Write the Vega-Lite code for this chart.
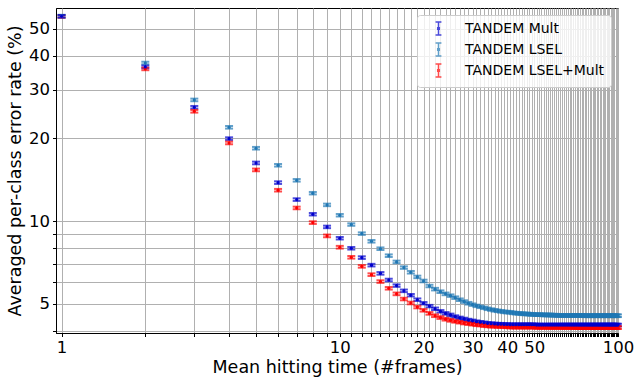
{
"$schema":"https://vega.github.io/schema/vega-lite/v6.json",
"width":562,"height":325,
"autosize":{"type":"none"},
"padding":{"left":56,"top":8,"right":17,"bottom":48},
"config":{"font":"DejaVu Sans","view":{"stroke":"black","strokeWidth":1},
"axis":{"gridColor":"#b0b0b0","gridWidth":1,"domainColor":"black","tickColor":"black","labelColor":"black","titleColor":"black","titleFontWeight":"normal","labelFontSize":16.5,"titleFontSize":17.5,"tickSize":3.5,"labelPadding":3},
"legend":{"orient":"none","legendX":361,"legendY":7,"fillColor":"rgba(255,255,255,0.8)","strokeColor":"#cccccc","cornerRadius":3,"padding":6,"labelFontSize":14,"labelColor":"black","symbolType":"M0,-1V1M-0.45,-1H0.45M-0.45,1H0.45M-0.12,-0.12H0.12V0.12H-0.12Z","symbolSize":170,"symbolStrokeWidth":1.5,"rowPadding":0,"labelOffset":19,"symbolOffset":8}},
"datasets":{"d":[
{"x":1,"s":"TANDEM LSEL+Mult","v":55.5,"e":0.6},{"x":2,"s":"TANDEM LSEL+Mult","v":35.8,"e":0.4},{"x":3,"s":"TANDEM LSEL+Mult","v":25.1,"e":0.28},{"x":4,"s":"TANDEM LSEL+Mult","v":19.25,"e":0.21},{"x":5,"s":"TANDEM LSEL+Mult","v":15.36,"e":0.17},{"x":6,"s":"TANDEM LSEL+Mult","v":12.96,"e":0.14},{"x":7,"s":"TANDEM LSEL+Mult","v":11.17,"e":0.12},{"x":8,"s":"TANDEM LSEL+Mult","v":9.88,"e":0.11},{"x":9,"s":"TANDEM LSEL+Mult","v":8.84,"e":0.1},{"x":10,"s":"TANDEM LSEL+Mult","v":8.04,"e":0.09},
{"x":11,"s":"TANDEM LSEL+Mult","v":7.39,"e":0.08},{"x":12,"s":"TANDEM LSEL+Mult","v":6.85,"e":0.075},{"x":13,"s":"TANDEM LSEL+Mult","v":6.39,"e":0.07},{"x":14,"s":"TANDEM LSEL+Mult","v":6.03,"e":0.065},{"x":15,"s":"TANDEM LSEL+Mult","v":5.7,"e":0.06},{"x":16,"s":"TANDEM LSEL+Mult","v":5.44,"e":0.06},{"x":17,"s":"TANDEM LSEL+Mult","v":5.21,"e":0.055},{"x":18,"s":"TANDEM LSEL+Mult","v":5.04,"e":0.055},{"x":19,"s":"TANDEM LSEL+Mult","v":4.87,"e":0.05},{"x":20,"s":"TANDEM LSEL+Mult","v":4.74,"e":0.05},
{"x":21,"s":"TANDEM LSEL+Mult","v":4.62,"e":0.05},{"x":22,"s":"TANDEM LSEL+Mult","v":4.53,"e":0.05},{"x":23,"s":"TANDEM LSEL+Mult","v":4.46,"e":0.05},{"x":24,"s":"TANDEM LSEL+Mult","v":4.4,"e":0.05},{"x":25,"s":"TANDEM LSEL+Mult","v":4.36,"e":0.05},{"x":26,"s":"TANDEM LSEL+Mult","v":4.32,"e":0.045},{"x":27,"s":"TANDEM LSEL+Mult","v":4.29,"e":0.045},{"x":28,"s":"TANDEM LSEL+Mult","v":4.26,"e":0.045},{"x":29,"s":"TANDEM LSEL+Mult","v":4.24,"e":0.045},{"x":30,"s":"TANDEM LSEL+Mult","v":4.22,"e":0.045},
{"x":31,"s":"TANDEM LSEL+Mult","v":4.2,"e":0.045},{"x":32,"s":"TANDEM LSEL+Mult","v":4.19,"e":0.045},{"x":33,"s":"TANDEM LSEL+Mult","v":4.17,"e":0.045},{"x":34,"s":"TANDEM LSEL+Mult","v":4.16,"e":0.045},{"x":35,"s":"TANDEM LSEL+Mult","v":4.15,"e":0.045},{"x":36,"s":"TANDEM LSEL+Mult","v":4.15,"e":0.045},{"x":37,"s":"TANDEM LSEL+Mult","v":4.14,"e":0.045},{"x":38,"s":"TANDEM LSEL+Mult","v":4.14,"e":0.045},{"x":39,"s":"TANDEM LSEL+Mult","v":4.13,"e":0.045},{"x":40,"s":"TANDEM LSEL+Mult","v":4.13,"e":0.045},
{"x":41,"s":"TANDEM LSEL+Mult","v":4.12,"e":0.045},{"x":42,"s":"TANDEM LSEL+Mult","v":4.12,"e":0.045},{"x":43,"s":"TANDEM LSEL+Mult","v":4.12,"e":0.045},{"x":44,"s":"TANDEM LSEL+Mult","v":4.12,"e":0.045},{"x":45,"s":"TANDEM LSEL+Mult","v":4.12,"e":0.045},{"x":46,"s":"TANDEM LSEL+Mult","v":4.12,"e":0.045},{"x":47,"s":"TANDEM LSEL+Mult","v":4.12,"e":0.045},{"x":48,"s":"TANDEM LSEL+Mult","v":4.12,"e":0.045},{"x":49,"s":"TANDEM LSEL+Mult","v":4.12,"e":0.045},{"x":50,"s":"TANDEM LSEL+Mult","v":4.12,"e":0.045},
{"x":51,"s":"TANDEM LSEL+Mult","v":4.11,"e":0.045},{"x":52,"s":"TANDEM LSEL+Mult","v":4.11,"e":0.045},{"x":53,"s":"TANDEM LSEL+Mult","v":4.11,"e":0.045},{"x":54,"s":"TANDEM LSEL+Mult","v":4.11,"e":0.045},{"x":55,"s":"TANDEM LSEL+Mult","v":4.11,"e":0.045},{"x":56,"s":"TANDEM LSEL+Mult","v":4.11,"e":0.045},{"x":57,"s":"TANDEM LSEL+Mult","v":4.11,"e":0.045},{"x":58,"s":"TANDEM LSEL+Mult","v":4.11,"e":0.045},{"x":59,"s":"TANDEM LSEL+Mult","v":4.11,"e":0.045},{"x":60,"s":"TANDEM LSEL+Mult","v":4.11,"e":0.045},
{"x":61,"s":"TANDEM LSEL+Mult","v":4.11,"e":0.045},{"x":62,"s":"TANDEM LSEL+Mult","v":4.11,"e":0.045},{"x":63,"s":"TANDEM LSEL+Mult","v":4.11,"e":0.045},{"x":64,"s":"TANDEM LSEL+Mult","v":4.11,"e":0.045},{"x":65,"s":"TANDEM LSEL+Mult","v":4.11,"e":0.045},{"x":66,"s":"TANDEM LSEL+Mult","v":4.11,"e":0.045},{"x":67,"s":"TANDEM LSEL+Mult","v":4.11,"e":0.045},{"x":68,"s":"TANDEM LSEL+Mult","v":4.11,"e":0.045},{"x":69,"s":"TANDEM LSEL+Mult","v":4.11,"e":0.045},{"x":70,"s":"TANDEM LSEL+Mult","v":4.11,"e":0.045},
{"x":71,"s":"TANDEM LSEL+Mult","v":4.1,"e":0.045},{"x":72,"s":"TANDEM LSEL+Mult","v":4.1,"e":0.045},{"x":73,"s":"TANDEM LSEL+Mult","v":4.1,"e":0.045},{"x":74,"s":"TANDEM LSEL+Mult","v":4.1,"e":0.045},{"x":75,"s":"TANDEM LSEL+Mult","v":4.1,"e":0.045},{"x":76,"s":"TANDEM LSEL+Mult","v":4.1,"e":0.045},{"x":77,"s":"TANDEM LSEL+Mult","v":4.1,"e":0.045},{"x":78,"s":"TANDEM LSEL+Mult","v":4.1,"e":0.045},{"x":79,"s":"TANDEM LSEL+Mult","v":4.1,"e":0.045},{"x":80,"s":"TANDEM LSEL+Mult","v":4.1,"e":0.045},
{"x":81,"s":"TANDEM LSEL+Mult","v":4.1,"e":0.045},{"x":82,"s":"TANDEM LSEL+Mult","v":4.1,"e":0.045},{"x":83,"s":"TANDEM LSEL+Mult","v":4.1,"e":0.045},{"x":84,"s":"TANDEM LSEL+Mult","v":4.1,"e":0.045},{"x":85,"s":"TANDEM LSEL+Mult","v":4.1,"e":0.045},{"x":86,"s":"TANDEM LSEL+Mult","v":4.1,"e":0.045},{"x":87,"s":"TANDEM LSEL+Mult","v":4.1,"e":0.045},{"x":88,"s":"TANDEM LSEL+Mult","v":4.1,"e":0.045},{"x":89,"s":"TANDEM LSEL+Mult","v":4.1,"e":0.045},{"x":90,"s":"TANDEM LSEL+Mult","v":4.1,"e":0.045},
{"x":91,"s":"TANDEM LSEL+Mult","v":4.1,"e":0.045},{"x":92,"s":"TANDEM LSEL+Mult","v":4.1,"e":0.045},{"x":93,"s":"TANDEM LSEL+Mult","v":4.1,"e":0.045},{"x":94,"s":"TANDEM LSEL+Mult","v":4.1,"e":0.045},{"x":95,"s":"TANDEM LSEL+Mult","v":4.1,"e":0.045},{"x":96,"s":"TANDEM LSEL+Mult","v":4.1,"e":0.045},{"x":97,"s":"TANDEM LSEL+Mult","v":4.1,"e":0.045},{"x":98,"s":"TANDEM LSEL+Mult","v":4.1,"e":0.045},{"x":99,"s":"TANDEM LSEL+Mult","v":4.1,"e":0.045},{"x":100,"s":"TANDEM LSEL+Mult","v":4.1,"e":0.045},
{"x":1,"s":"TANDEM LSEL","v":55.7,"e":0.6},{"x":2,"s":"TANDEM LSEL","v":37.6,"e":0.4},{"x":3,"s":"TANDEM LSEL","v":27.6,"e":0.3},{"x":4,"s":"TANDEM LSEL","v":21.95,"e":0.24},{"x":5,"s":"TANDEM LSEL","v":18.42,"e":0.2},{"x":6,"s":"TANDEM LSEL","v":15.97,"e":0.17},{"x":7,"s":"TANDEM LSEL","v":14.08,"e":0.15},{"x":8,"s":"TANDEM LSEL","v":12.64,"e":0.13},{"x":9,"s":"TANDEM LSEL","v":11.46,"e":0.12},{"x":10,"s":"TANDEM LSEL","v":10.51,"e":0.11},
{"x":11,"s":"TANDEM LSEL","v":9.72,"e":0.1},{"x":12,"s":"TANDEM LSEL","v":9.01,"e":0.095},{"x":13,"s":"TANDEM LSEL","v":8.45,"e":0.09},{"x":14,"s":"TANDEM LSEL","v":7.94,"e":0.085},{"x":15,"s":"TANDEM LSEL","v":7.49,"e":0.08},{"x":16,"s":"TANDEM LSEL","v":7.11,"e":0.075},{"x":17,"s":"TANDEM LSEL","v":6.78,"e":0.07},{"x":18,"s":"TANDEM LSEL","v":6.52,"e":0.07},{"x":19,"s":"TANDEM LSEL","v":6.27,"e":0.065},{"x":20,"s":"TANDEM LSEL","v":6.06,"e":0.065},
{"x":21,"s":"TANDEM LSEL","v":5.81,"e":0.06},{"x":22,"s":"TANDEM LSEL","v":5.66,"e":0.06},{"x":23,"s":"TANDEM LSEL","v":5.54,"e":0.06},{"x":24,"s":"TANDEM LSEL","v":5.44,"e":0.06},{"x":25,"s":"TANDEM LSEL","v":5.36,"e":0.055},{"x":26,"s":"TANDEM LSEL","v":5.27,"e":0.055},{"x":27,"s":"TANDEM LSEL","v":5.18,"e":0.055},{"x":28,"s":"TANDEM LSEL","v":5.1,"e":0.055},{"x":29,"s":"TANDEM LSEL","v":5.03,"e":0.055},{"x":30,"s":"TANDEM LSEL","v":4.97,"e":0.05},
{"x":31,"s":"TANDEM LSEL","v":4.92,"e":0.05},{"x":32,"s":"TANDEM LSEL","v":4.88,"e":0.05},{"x":33,"s":"TANDEM LSEL","v":4.84,"e":0.05},{"x":34,"s":"TANDEM LSEL","v":4.8,"e":0.05},{"x":35,"s":"TANDEM LSEL","v":4.77,"e":0.05},{"x":36,"s":"TANDEM LSEL","v":4.74,"e":0.05},{"x":37,"s":"TANDEM LSEL","v":4.72,"e":0.05},{"x":38,"s":"TANDEM LSEL","v":4.7,"e":0.05},{"x":39,"s":"TANDEM LSEL","v":4.68,"e":0.05},{"x":40,"s":"TANDEM LSEL","v":4.67,"e":0.05},
{"x":41,"s":"TANDEM LSEL","v":4.66,"e":0.05},{"x":42,"s":"TANDEM LSEL","v":4.64,"e":0.05},{"x":43,"s":"TANDEM LSEL","v":4.63,"e":0.05},{"x":44,"s":"TANDEM LSEL","v":4.62,"e":0.05},{"x":45,"s":"TANDEM LSEL","v":4.61,"e":0.05},{"x":46,"s":"TANDEM LSEL","v":4.6,"e":0.05},{"x":47,"s":"TANDEM LSEL","v":4.6,"e":0.05},{"x":48,"s":"TANDEM LSEL","v":4.59,"e":0.05},{"x":49,"s":"TANDEM LSEL","v":4.58,"e":0.05},{"x":50,"s":"TANDEM LSEL","v":4.58,"e":0.05},
{"x":51,"s":"TANDEM LSEL","v":4.57,"e":0.05},{"x":52,"s":"TANDEM LSEL","v":4.57,"e":0.05},{"x":53,"s":"TANDEM LSEL","v":4.57,"e":0.05},{"x":54,"s":"TANDEM LSEL","v":4.56,"e":0.05},{"x":55,"s":"TANDEM LSEL","v":4.56,"e":0.05},{"x":56,"s":"TANDEM LSEL","v":4.56,"e":0.05},{"x":57,"s":"TANDEM LSEL","v":4.56,"e":0.05},{"x":58,"s":"TANDEM LSEL","v":4.55,"e":0.05},{"x":59,"s":"TANDEM LSEL","v":4.55,"e":0.05},{"x":60,"s":"TANDEM LSEL","v":4.55,"e":0.05},
{"x":61,"s":"TANDEM LSEL","v":4.54,"e":0.05},{"x":62,"s":"TANDEM LSEL","v":4.54,"e":0.05},{"x":63,"s":"TANDEM LSEL","v":4.54,"e":0.05},{"x":64,"s":"TANDEM LSEL","v":4.54,"e":0.05},{"x":65,"s":"TANDEM LSEL","v":4.54,"e":0.05},{"x":66,"s":"TANDEM LSEL","v":4.54,"e":0.05},{"x":67,"s":"TANDEM LSEL","v":4.54,"e":0.05},{"x":68,"s":"TANDEM LSEL","v":4.54,"e":0.05},{"x":69,"s":"TANDEM LSEL","v":4.54,"e":0.05},{"x":70,"s":"TANDEM LSEL","v":4.54,"e":0.05},
{"x":71,"s":"TANDEM LSEL","v":4.54,"e":0.05},{"x":72,"s":"TANDEM LSEL","v":4.54,"e":0.05},{"x":73,"s":"TANDEM LSEL","v":4.54,"e":0.05},{"x":74,"s":"TANDEM LSEL","v":4.54,"e":0.05},{"x":75,"s":"TANDEM LSEL","v":4.54,"e":0.05},{"x":76,"s":"TANDEM LSEL","v":4.53,"e":0.05},{"x":77,"s":"TANDEM LSEL","v":4.53,"e":0.05},{"x":78,"s":"TANDEM LSEL","v":4.53,"e":0.05},{"x":79,"s":"TANDEM LSEL","v":4.53,"e":0.05},{"x":80,"s":"TANDEM LSEL","v":4.53,"e":0.05},
{"x":81,"s":"TANDEM LSEL","v":4.53,"e":0.05},{"x":82,"s":"TANDEM LSEL","v":4.53,"e":0.05},{"x":83,"s":"TANDEM LSEL","v":4.53,"e":0.05},{"x":84,"s":"TANDEM LSEL","v":4.53,"e":0.05},{"x":85,"s":"TANDEM LSEL","v":4.53,"e":0.05},{"x":86,"s":"TANDEM LSEL","v":4.53,"e":0.05},{"x":87,"s":"TANDEM LSEL","v":4.53,"e":0.05},{"x":88,"s":"TANDEM LSEL","v":4.53,"e":0.05},{"x":89,"s":"TANDEM LSEL","v":4.53,"e":0.05},{"x":90,"s":"TANDEM LSEL","v":4.53,"e":0.05},
{"x":91,"s":"TANDEM LSEL","v":4.53,"e":0.05},{"x":92,"s":"TANDEM LSEL","v":4.53,"e":0.05},{"x":93,"s":"TANDEM LSEL","v":4.53,"e":0.05},{"x":94,"s":"TANDEM LSEL","v":4.53,"e":0.05},{"x":95,"s":"TANDEM LSEL","v":4.53,"e":0.05},{"x":96,"s":"TANDEM LSEL","v":4.53,"e":0.05},{"x":97,"s":"TANDEM LSEL","v":4.53,"e":0.05},{"x":98,"s":"TANDEM LSEL","v":4.53,"e":0.05},{"x":99,"s":"TANDEM LSEL","v":4.53,"e":0.05},{"x":100,"s":"TANDEM LSEL","v":4.53,"e":0.05},
{"x":1,"s":"TANDEM Mult","v":55.6,"e":0.6},{"x":2,"s":"TANDEM Mult","v":36.4,"e":0.4},{"x":3,"s":"TANDEM Mult","v":25.96,"e":0.28},{"x":4,"s":"TANDEM Mult","v":19.96,"e":0.22},{"x":5,"s":"TANDEM Mult","v":16.28,"e":0.18},{"x":6,"s":"TANDEM Mult","v":13.81,"e":0.15},{"x":7,"s":"TANDEM Mult","v":11.98,"e":0.13},{"x":8,"s":"TANDEM Mult","v":10.6,"e":0.11},{"x":9,"s":"TANDEM Mult","v":9.53,"e":0.1},{"x":10,"s":"TANDEM Mult","v":8.67,"e":0.09},
{"x":11,"s":"TANDEM Mult","v":7.97,"e":0.085},{"x":12,"s":"TANDEM Mult","v":7.37,"e":0.08},{"x":13,"s":"TANDEM Mult","v":6.92,"e":0.075},{"x":14,"s":"TANDEM Mult","v":6.46,"e":0.07},{"x":15,"s":"TANDEM Mult","v":6.11,"e":0.065},{"x":16,"s":"TANDEM Mult","v":5.83,"e":0.06},{"x":17,"s":"TANDEM Mult","v":5.58,"e":0.06},{"x":18,"s":"TANDEM Mult","v":5.38,"e":0.055},{"x":19,"s":"TANDEM Mult","v":5.18,"e":0.055},{"x":20,"s":"TANDEM Mult","v":5.03,"e":0.05},
{"x":21,"s":"TANDEM Mult","v":4.91,"e":0.05},{"x":22,"s":"TANDEM Mult","v":4.8,"e":0.05},{"x":23,"s":"TANDEM Mult","v":4.7,"e":0.05},{"x":24,"s":"TANDEM Mult","v":4.62,"e":0.05},{"x":25,"s":"TANDEM Mult","v":4.56,"e":0.05},{"x":26,"s":"TANDEM Mult","v":4.5,"e":0.045},{"x":27,"s":"TANDEM Mult","v":4.45,"e":0.045},{"x":28,"s":"TANDEM Mult","v":4.41,"e":0.045},{"x":29,"s":"TANDEM Mult","v":4.37,"e":0.045},{"x":30,"s":"TANDEM Mult","v":4.34,"e":0.045},
{"x":31,"s":"TANDEM Mult","v":4.31,"e":0.045},{"x":32,"s":"TANDEM Mult","v":4.29,"e":0.045},{"x":33,"s":"TANDEM Mult","v":4.27,"e":0.045},{"x":34,"s":"TANDEM Mult","v":4.25,"e":0.045},{"x":35,"s":"TANDEM Mult","v":4.24,"e":0.045},{"x":36,"s":"TANDEM Mult","v":4.23,"e":0.045},{"x":37,"s":"TANDEM Mult","v":4.22,"e":0.045},{"x":38,"s":"TANDEM Mult","v":4.22,"e":0.045},{"x":39,"s":"TANDEM Mult","v":4.21,"e":0.045},{"x":40,"s":"TANDEM Mult","v":4.21,"e":0.045},
{"x":41,"s":"TANDEM Mult","v":4.2,"e":0.045},{"x":42,"s":"TANDEM Mult","v":4.2,"e":0.045},{"x":43,"s":"TANDEM Mult","v":4.2,"e":0.045},{"x":44,"s":"TANDEM Mult","v":4.2,"e":0.045},{"x":45,"s":"TANDEM Mult","v":4.2,"e":0.045},{"x":46,"s":"TANDEM Mult","v":4.2,"e":0.045},{"x":47,"s":"TANDEM Mult","v":4.2,"e":0.045},{"x":48,"s":"TANDEM Mult","v":4.2,"e":0.045},{"x":49,"s":"TANDEM Mult","v":4.2,"e":0.045},{"x":50,"s":"TANDEM Mult","v":4.2,"e":0.045},
{"x":51,"s":"TANDEM Mult","v":4.19,"e":0.045},{"x":52,"s":"TANDEM Mult","v":4.19,"e":0.045},{"x":53,"s":"TANDEM Mult","v":4.19,"e":0.045},{"x":54,"s":"TANDEM Mult","v":4.19,"e":0.045},{"x":55,"s":"TANDEM Mult","v":4.19,"e":0.045},{"x":56,"s":"TANDEM Mult","v":4.19,"e":0.045},{"x":57,"s":"TANDEM Mult","v":4.19,"e":0.045},{"x":58,"s":"TANDEM Mult","v":4.19,"e":0.045},{"x":59,"s":"TANDEM Mult","v":4.19,"e":0.045},{"x":60,"s":"TANDEM Mult","v":4.19,"e":0.045},
{"x":61,"s":"TANDEM Mult","v":4.19,"e":0.045},{"x":62,"s":"TANDEM Mult","v":4.19,"e":0.045},{"x":63,"s":"TANDEM Mult","v":4.19,"e":0.045},{"x":64,"s":"TANDEM Mult","v":4.19,"e":0.045},{"x":65,"s":"TANDEM Mult","v":4.19,"e":0.045},{"x":66,"s":"TANDEM Mult","v":4.19,"e":0.045},{"x":67,"s":"TANDEM Mult","v":4.19,"e":0.045},{"x":68,"s":"TANDEM Mult","v":4.19,"e":0.045},{"x":69,"s":"TANDEM Mult","v":4.19,"e":0.045},{"x":70,"s":"TANDEM Mult","v":4.19,"e":0.045},
{"x":71,"s":"TANDEM Mult","v":4.19,"e":0.045},{"x":72,"s":"TANDEM Mult","v":4.19,"e":0.045},{"x":73,"s":"TANDEM Mult","v":4.19,"e":0.045},{"x":74,"s":"TANDEM Mult","v":4.19,"e":0.045},{"x":75,"s":"TANDEM Mult","v":4.19,"e":0.045},{"x":76,"s":"TANDEM Mult","v":4.19,"e":0.045},{"x":77,"s":"TANDEM Mult","v":4.19,"e":0.045},{"x":78,"s":"TANDEM Mult","v":4.19,"e":0.045},{"x":79,"s":"TANDEM Mult","v":4.19,"e":0.045},{"x":80,"s":"TANDEM Mult","v":4.19,"e":0.045},
{"x":81,"s":"TANDEM Mult","v":4.19,"e":0.045},{"x":82,"s":"TANDEM Mult","v":4.19,"e":0.045},{"x":83,"s":"TANDEM Mult","v":4.19,"e":0.045},{"x":84,"s":"TANDEM Mult","v":4.19,"e":0.045},{"x":85,"s":"TANDEM Mult","v":4.19,"e":0.045},{"x":86,"s":"TANDEM Mult","v":4.19,"e":0.045},{"x":87,"s":"TANDEM Mult","v":4.19,"e":0.045},{"x":88,"s":"TANDEM Mult","v":4.19,"e":0.045},{"x":89,"s":"TANDEM Mult","v":4.19,"e":0.045},{"x":90,"s":"TANDEM Mult","v":4.19,"e":0.045},
{"x":91,"s":"TANDEM Mult","v":4.19,"e":0.045},{"x":92,"s":"TANDEM Mult","v":4.19,"e":0.045},{"x":93,"s":"TANDEM Mult","v":4.19,"e":0.045},{"x":94,"s":"TANDEM Mult","v":4.19,"e":0.045},{"x":95,"s":"TANDEM Mult","v":4.19,"e":0.045},{"x":96,"s":"TANDEM Mult","v":4.19,"e":0.045},{"x":97,"s":"TANDEM Mult","v":4.19,"e":0.045},{"x":98,"s":"TANDEM Mult","v":4.19,"e":0.045},{"x":99,"s":"TANDEM Mult","v":4.19,"e":0.045},{"x":100,"s":"TANDEM Mult","v":4.19,"e":0.045}
]},
"data":{"name":"d"},
"encoding":{
"x":{"field":"x","type":"quantitative","scale":{"type":"log","domain":[0.955,100],"nice":false,"zero":false},
"axis":{"title":"Mean hitting time (#frames)","values":[1,2,3,4,5,6,7,8,9,10,11,12,13,14,15,16,17,18,19,20,21,22,23,24,25,26,27,28,29,30,31,32,33,34,35,36,37,38,39,40,41,42,43,44,45,46,47,48,49,50,51,52,53,54,55,56,57,58,59,60,61,62,63,64,65,66,67,68,69,70,71,72,73,74,75,76,77,78,79,80,81,82,83,84,85,86,87,88,89,90,91,92,93,94,95,96,97,98,99,100],
"labelExpr":"indexof([1,10,20,30,40,50,100], datum.value) >= 0 ? format(datum.value,'d') : ''","labelOverlap":false,"labelFlush":false,"titlePadding":2}},
"y":{"field":"v","type":"quantitative","scale":{"type":"log","domain":[3.92,59.6],"nice":false,"zero":false},
"axis":{"title":"Averaged per-class error rate (%)","values":[4,5,6,7,8,9,10,20,30,40,50],
"labelExpr":"indexof([5,10,20,30,40,50], datum.value) >= 0 ? format(datum.value,'d') : ''","labelOverlap":false,"labelFlush":false,"titlePadding":4}},
"color":{"field":"s","type":"nominal","scale":{"domain":["TANDEM Mult","TANDEM LSEL","TANDEM LSEL+Mult"],"range":["#0000cd","#1f77b4","#ff0000"]},"legend":{"title":null}}
},
"layer":[
{"mark":{"type":"errorbar","ticks":{"size":8,"thickness":2},"thickness":1.5},"encoding":{"yError":{"field":"e"}}},
{"mark":{"type":"point","filled":true,"size":10,"opacity":1}}
]
}
